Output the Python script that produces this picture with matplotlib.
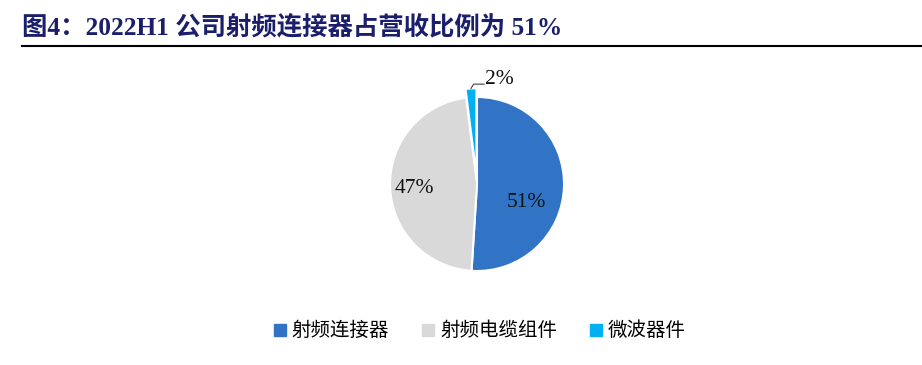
import numpy as np
import matplotlib
matplotlib.use("Agg")
import matplotlib.pyplot as plt

title = "图4：2022H1 公司射频连接器占营收比例为 51%"
categories = ["射频连接器", "射频电缆组件", "微波器件"]
values = [51, 47, 2]
colors = ["#3174C6", "#D9D9D9", "#00B0F0"]

W, H = 922, 365
fig = plt.figure(figsize=(W / 100, H / 100), dpi=100)
fam = ["Liberation Serif", "Noto Sans CJK SC", "DejaVu Sans"]

# Title and rule
fig.text(22 / W, 1 - 27 / H, title, fontsize=18.3, fontweight="bold", color="#1B1F6B",
         family=fam, va="center", ha="left")
fig.add_artist(plt.Line2D([22 / W, 1.0], [1 - 46 / H, 1 - 46 / H], color="black", lw=1.5))

cx, cy, r = 477, 184, 87
ax = fig.add_axes([(cx - r) / W, (H - cy - r) / H, 2 * r / W, 2 * r / H])
explode = [0, 0, 0.1]
wedges, _ = ax.pie(values, colors=colors, startangle=90, counterclock=False,
                   explode=explode, radius=1,
                   wedgeprops=dict(edgecolor="white", linewidth=1.5))
ax.set_xlim(-1, 1)
ax.set_ylim(-1, 1)
ax.set_aspect("equal")
ax.axis("off")

labels = [f"{v}%" for v in values]
pos = [(0.57, -0.21), (-0.72, -0.05)]
for lab, (x, y) in zip(labels[:2], pos):
    ax.text(x, y, lab, fontsize=15.5, family=fam, ha="center", va="center", color="#111111")

w = wedges[2]
ang = np.deg2rad((w.theta1 + w.theta2) / 2)
cxw, cyw = w.center
tip = (cxw + np.cos(ang) * 1.0, cyw + np.sin(ang) * 1.0)
p1 = (tip[0] + 0.03, tip[1] + 0.05)
p2 = (p1[0] + 0.12, p1[1])
ax.plot([tip[0], p1[0], p2[0]], [tip[1], p1[1], p2[1]], color="#404040", lw=0.8, clip_on=False)
ax.text(p2[0] + 0.01, p2[1] + 0.05, labels[2], fontsize=15.5, family=fam, ha="left", va="center",
        color="#111111", clip_on=False)

handles = [plt.Line2D([], [], marker="s", linestyle="none", markersize=8,
                      markerfacecolor=c, markeredgecolor=c) for c in colors]
fig.legend(handles, categories, loc="center", bbox_to_anchor=(478 / W, 1 - 331 / H),
           ncol=3, frameon=False, prop=dict(family=fam, size=14),
           handletextpad=0.1, columnspacing=1.5, handlelength=1.0)

fig.savefig("out.png", dpi=100)
